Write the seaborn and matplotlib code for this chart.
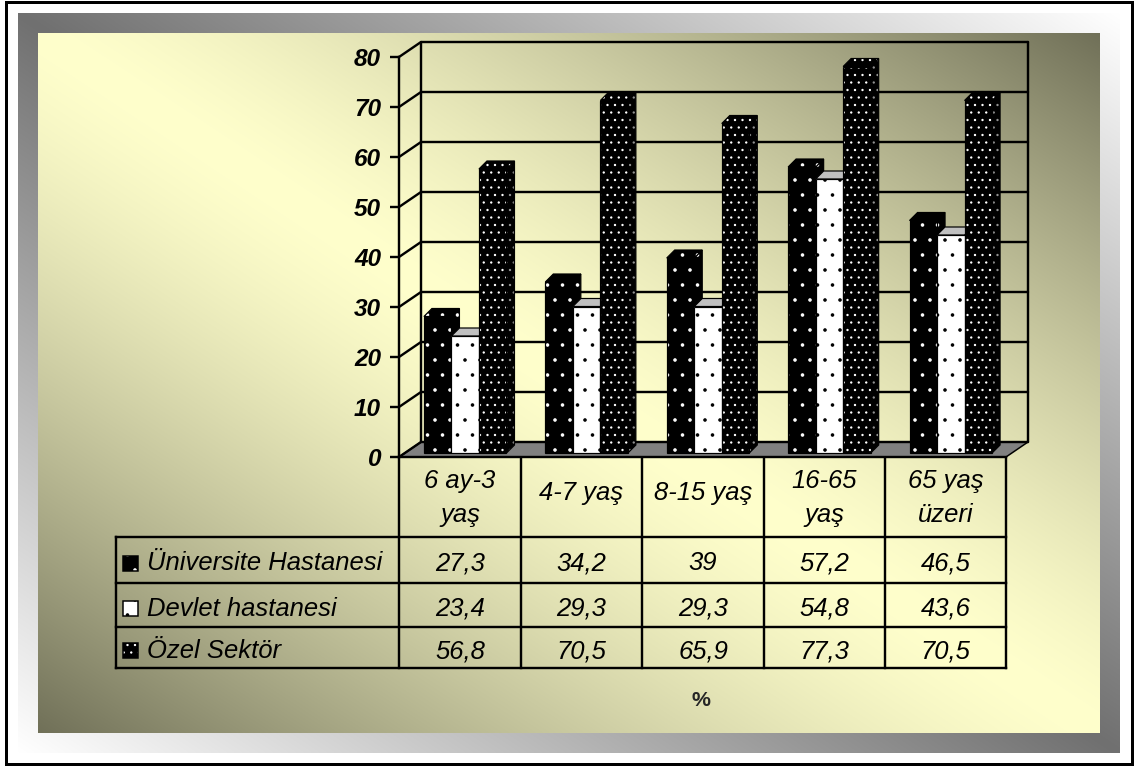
import numpy as np
import pandas as pd
import seaborn as sns
import matplotlib.hatch as mhatch
from matplotlib import pyplot as plt
from matplotlib.patches import Polygon, Rectangle

# Data
yas_gruplari = ['6 ay-3\nyaş', '4-7 yaş', '8-15 yaş', '16-65\nyaş', '65 yaş\nüzeri']
kurumlar = ['Üniversite Hastanesi', 'Devlet hastanesi', 'Özel Sektör']
universite = [27.3, 34.2, 39, 57.2, 46.5]
devlet = [23.4, 29.3, 29.3, 54.8, 43.6]
ozel = [56.8, 70.5, 65.9, 77.3, 70.5]
eksen_degerleri = [0, 10, 20, 30, 40, 50, 60, 70, 80]

sns.set_style('white')
plt.rcParams['font.family'] = ['Liberation Sans', 'DejaVu Sans']
plt.rcParams['hatch.linewidth'] = 0.9
mhatch.SmallFilledCircles.size = 0.08  # smaller dots than the default

DPI = 90
PT = 72 / DPI  # one pixel in points
fig = plt.figure(figsize=(1136 / DPI, 767 / DPI), dpi=DPI, facecolor='white')

# Background layer in pixel coordinates
bg = fig.add_axes([0, 0, 1, 1], zorder=0)
bg.axis('off')


def gradient(x0, x1, y0, y1, center, corner, power=1.0):
    u, v = np.meshgrid(np.linspace(0, 1, 500), np.linspace(0, 1, 400))
    s = (np.abs(u - v) ** power)[..., None]
    img = (np.array(center) * (1 - s) + np.array(corner) * s) / 255
    bg.imshow(img, extent=(x0, x1, y1, y0), aspect='auto', interpolation='bilinear')


gradient(18, 1120, 13, 753, (112, 112, 112), (255, 255, 255))
gradient(38, 1100, 33, 733, (255, 255, 204), (112, 112, 88), power=1.4)
bg.add_patch(Rectangle((6, 2), 1126, 762, fill=False, ec='black', lw=3 * PT))
bg.set_xlim(0, 1136)
bg.set_ylim(767, 0)

# Table
cols = [399, 521, 642, 764, 885, 1006]
rows = [537, 583, 627, 668]
lw = 2.4 * PT
for c in cols:
    bg.plot([c, c], [457, rows[-1]], color='black', lw=lw, solid_capstyle='projecting')
bg.plot([116, 116], [rows[0], rows[-1]], color='black', lw=lw, solid_capstyle='projecting')
for r in rows:
    bg.plot([116, cols[-1]], [r, r], color='black', lw=lw, solid_capstyle='projecting')

tablo_font = dict(fontsize=20.5, style='italic', color='black', va='center')
for i, etiket in enumerate(yas_gruplari):
    yy = 498 if '\n' in etiket else 493
    bg.text((cols[i] + cols[i + 1]) / 2, yy, etiket, ha='center', linespacing=1.5, **tablo_font)

stiller = [('black', 'white', '.'), ('white', 'black', '.'), ('black', 'white', '..')]
seriler = [universite, devlet, ozel]
for k, (ad, seri) in enumerate(zip(kurumlar, seriler)):
    yy = (rows[k] + rows[k + 1]) / 2 + 3
    yuz, nokta, tarama = stiller[k]
    bg.add_patch(Rectangle((123, yy - 7.5), 15, 15, fc=yuz, ec=nokta, lw=0, hatch=tarama))
    bg.add_patch(Rectangle((123, yy - 7.5), 15, 15, fill=False, ec='black', lw=1.5 * PT))
    bg.text(147, yy + 0.5, ad, ha='left', **tablo_font)
    for i, deger in enumerate(seri):
        bg.text((cols[i] + cols[i + 1]) / 2, yy + 0.5, str(deger).replace('.', ','), ha='center', **tablo_font)

bg.text(701, 700, '%', fontsize=17, fontweight='bold', ha='center', va='center')

# Chart axes: 399-1028 px wide, 457-41 px high, bars stand on y=0 (453 px)
W, H = 1136, 767
ax = fig.add_axes([399 / W, 1 - 457 / H, 629 / W, 416 / H], zorder=2)
ax.patch.set_visible(False)

df = pd.DataFrame({
    'yas': yas_gruplari * 3,
    'kurum': np.repeat(kurumlar, 5),
    'oran': universite + devlet + ozel,
})
sns.barplot(data=df, x='yas', y='oran', hue='kurum', width=0.68, gap=0, legend=False,
            palette=['black', 'white', 'black'], ax=ax)

BIRIM_X = 121.4  # px per category
BIRIM_Y = 5.0    # px per percent
xl = -0.5 - 5.5 / BIRIM_X
ax.set_xlim(xl, xl + 629 / BIRIM_X)
ax.set_ylim(-0.8, 82.4)
ax.set_xticks([])
ax.set_xlabel('')
ax.set_ylabel('')

# Walls and floor
on_y = -0.8
arka_dy = 15 / BIRIM_Y
arka_dx = 22 / BIRIM_X
xr = xl + 5
ax.add_patch(Polygon([(xl, on_y), (xl + arka_dx, on_y + arka_dy), (xr + arka_dx, on_y + arka_dy), (xr, on_y)],
                     fc='#808080', ec='black', lw=1.5 * PT, zorder=1))
for v in eksen_degerleri:
    ax.plot([xl, xl + arka_dx, xr + arka_dx], [v + on_y, v + on_y + arka_dy, v + on_y + arka_dy],
            color='black', lw=lw, zorder=1, clip_on=False)
ax.plot([xl + arka_dx] * 2, [on_y + arka_dy, 80 + on_y + arka_dy], color='black', lw=lw, zorder=1, clip_on=False)
ax.plot([xr + arka_dx] * 2, [on_y + arka_dy, 80 + on_y + arka_dy], color='black', lw=lw, zorder=1, clip_on=False)

sns.despine(ax=ax, top=True, right=True)
for s in ['left', 'bottom']:
    ax.spines[s].set_color('black')
    ax.spines[s].set_linewidth(lw)
ax.spines['left'].set_bounds(on_y, 80 + on_y)
ax.spines['bottom'].set_bounds(xl, xr)
ax.set_yticks([v + on_y for v in eksen_degerleri], [str(v) for v in eksen_degerleri])
ax.tick_params(axis='y', left=True, length=9 * PT, width=lw, color='black', pad=9 * PT)
for t in ax.get_yticklabels():
    t.set(fontsize=19.5, fontweight='bold', style='italic', color='black')


# 3D faces of the bars
def yuzey(noktalar, yuz, nokta, tarama, z):
    ax.add_patch(Polygon(noktalar, fc=yuz, ec=nokta, lw=0, hatch=tarama, zorder=z))
    ax.add_patch(Polygon(noktalar, fill=False, ec='black', lw=1.2 * PT, zorder=z + 0.01))


dx = 8 / BIRIM_X
dy = 8 / BIRIM_Y
ust_renk = ['black', '#c0c0c0', 'black']
yan_nokta = ['white', 'black', '#909090']
for k, kap in enumerate(ax.containers):
    yuz, nokta, tarama = stiller[k]
    z = 3 + k
    for bar in kap:
        x0, x1 = bar.get_x(), bar.get_x() + bar.get_width()
        h = bar.get_height()
        bar.set(facecolor=yuz, edgecolor=nokta, linewidth=0, hatch=tarama, zorder=z + 0.5)
        ax.add_patch(Rectangle((x0, 0), x1 - x0, h, fill=False, ec='black', lw=1.2 * PT, zorder=z + 0.6))
        yuzey([(x1, 0), (x1 + dx, dy), (x1 + dx, h + dy), (x1, h)], 'black', yan_nokta[k], tarama, z)
        ust_tarama = tarama if k != 1 else None
        yuzey([(x0, h), (x0 + dx, h + dy), (x1 + dx, h + dy), (x1, h)], ust_renk[k], nokta, ust_tarama, z + 0.1)

fig.savefig('out.png', dpi=DPI)
